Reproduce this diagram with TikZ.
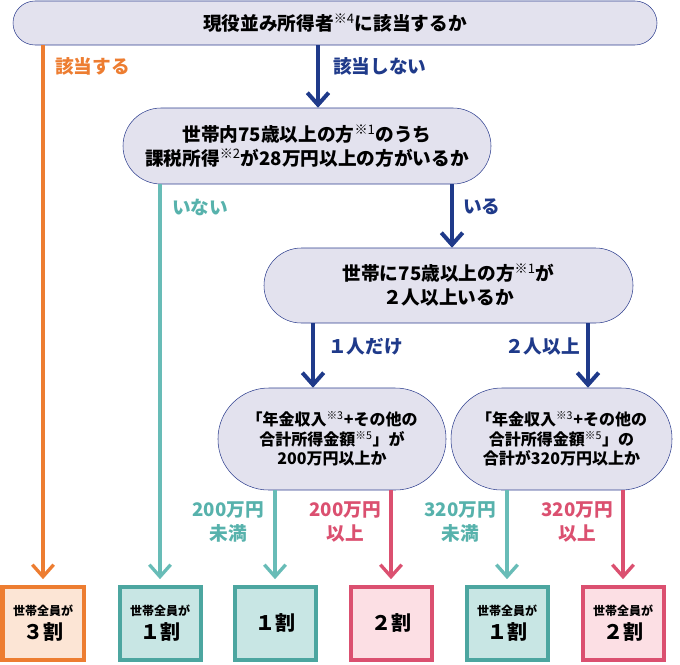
\documentclass[tikz,border=0pt]{standalone}
\usepackage{fontspec}
\setmainfont{Noto Sans CJK JP}
\usetikzlibrary{arrows.meta}
\definecolor{navy}{RGB}{31,58,138}
\definecolor{pillfill}{RGB}{227,226,238}
\definecolor{pillline}{RGB}{46,63,143}
\definecolor{orng}{RGB}{237,125,49}
\definecolor{orngfill}{RGB}{252,229,213}
\definecolor{tealline}{RGB}{104,188,183}
\definecolor{tealbox}{RGB}{76,166,160}
\definecolor{tealfill}{RGB}{200,230,228}
\definecolor{tealtext}{RGB}{87,178,172}
\definecolor{rose}{RGB}{219,80,112}
\definecolor{rosefill}{RGB}{252,223,228}
\newcommand{\kome}[1]{\textsuperscript{\mdseries ※#1}}
\newcommand{\allhh}[1]{{\fontsize{9}{12}\selectfont 世帯全員が}\\{\fontsize{15}{19}\selectfont #1}}
\begin{document}
\begin{tikzpicture}[x=0.75pt, y=-0.75pt, font={\bfseries\fontsize{14}{18}\selectfont},
  pill/.style={draw=pillline, fill=pillfill, align=center, inner sep=0pt},
  res/.style={line width=3pt, minimum width=60.75pt, minimum height=54.75pt, align=center, inner sep=0pt},
  lab/.style={inner sep=0pt, align=center},
  tip/.style={-{Straight Barb[length=9pt,width=16pt]}},
  nav/.style={tip, draw=navy, line width=3pt},
  bar/.style={tip, line width=2.5pt, shorten >=4pt}]
\useasboundingbox (0,0) rectangle (680,664);
% questions
\node[pill, minimum width=483pt, minimum height=33pt, rounded corners=16.5pt] (a) at (335,23) {現役並み所得者\kome{4}に該当するか};
\node[pill, minimum width=276pt, minimum height=57pt, rounded corners=28.5pt] (b) at (307,146) {世帯内75歳以上の方\kome{1}のうち\\課税所得\kome{2}が28万円以上の方がいるか};
\node[pill, minimum width=276.75pt, minimum height=56.25pt, rounded corners=28pt] (c) at (448.5,285.5) {世帯に75歳以上の方\kome{1}が\\２人以上いるか};
\node[pill, minimum width=171pt, minimum height=76.5pt, rounded corners=38pt, font={\bfseries\fontsize{12}{14.6}\selectfont}] (d) at (332,439) {「年金収入\kome{3}+その他の\\合計所得金額\kome{5}」が\\200万円以上か};
\node[pill, minimum width=165.75pt, minimum height=76.5pt, rounded corners=38pt, font={\bfseries\fontsize{12}{14.6}\selectfont}] (e) at (561.5,439) {「年金収入\kome{3}+その他の\\合計所得金額\kome{5}」の\\合計が320万円以上か};
% results
\node[res, draw=orng, fill=orngfill] (r1) at (43,623) {\allhh{３割}};
\node[res, draw=tealbox, fill=tealfill] (r2) at (160,623) {\allhh{１割}};
\node[res, draw=tealbox, fill=tealfill, font={\bfseries\fontsize{15}{19}\selectfont}] (r3) at (275,623) {１割};
\node[res, draw=rose, fill=rosefill, font={\bfseries\fontsize{15}{19}\selectfont}] (r4) at (391,623) {２割};
\node[res, draw=tealbox, fill=tealfill] (r5) at (507,623) {\allhh{１割}};
\node[res, draw=rose, fill=rosefill] (r6) at (623,623) {\allhh{２割}};
% arrows
\coordinate (k1) at (318,0);
\coordinate (k2) at (452,0);
\coordinate (k3) at (313,0);
\coordinate (k4) at (588,0);
\draw[nav] (a.south -| k1) -- (b.north -| k1);
\draw[nav] (b.south -| k2) -- (c.north -| k2);
\draw[nav] (c.south -| k3) -- (d.north -| k3);
\draw[nav] (c.south -| k4) -- (e.north -| k4);
\draw[bar, draw=orng] (a.south -| r1) -- (r1);
\draw[bar, draw=tealline] (b.south -| r2) -- (r2);
\draw[bar, draw=tealline] (d.south -| r3) -- (r3);
\draw[bar, draw=rose] (d.south -| r4) -- (r4);
\draw[bar, draw=tealline] (e.south -| r5) -- (r5);
\draw[bar, draw=rose] (e.south -| r6) -- (r6);
% labels
\node[lab, text=orng, anchor=west] (l1) at (55,66) {該当する};
\node[lab, text=navy, anchor=west] (l2) at (333,66) {該当しない};
\node[lab, text=tealtext, anchor=west] (l3) at (172,207) {いない};
\node[lab, text=navy, anchor=west] (l4) at (463,207) {いる};
\node[lab, text=navy, anchor=west] (l5) at (328,347) {１人だけ};
\node[lab, text=navy, anchor=east] (l6) at (580,347) {２人以上};
\node[lab, text=tealtext] (l7) at (228,522) {200万円\\未満};
\node[lab, text=rose] (l8) at (345,522) {200万円\\以上};
\node[lab, text=tealtext] (l9) at (460,522) {320万円\\未満};
\node[lab, text=rose] (l10) at (577,522) {320万円\\以上};
\end{tikzpicture}
\end{document}
